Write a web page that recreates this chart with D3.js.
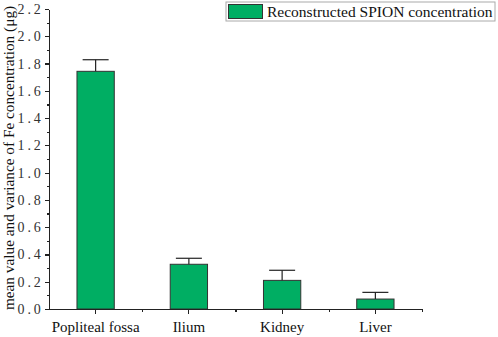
<!DOCTYPE html>
<html>
<head>
<meta charset="utf-8">
<style>
body {margin:0; background:#fff;}
svg text {font-family:'Liberation Serif','Times New Roman',serif; fill:#111;}
.axis path,.axis line {stroke:#222; stroke-width:1.2; shape-rendering:crispEdges;}
.ytick text {letter-spacing:2.8px;}
</style>
<script src="https://d3js.org/d3.v7.min.js"></script>
</head>
<body>
<svg id="chart"></svg>
<script>
// data
var categories=['Popliteal fossa','Ilium','Kidney','Liver'];
var means=[1.743,0.328,0.210,0.073];
var errors=[0.085,0.044,0.074,0.049];
var yTicks=[0,0.2,0.4,0.6,0.8,1.0,1.2,1.4,1.6,1.8,2.0,2.2];
var seriesName='Reconstructed SPION concentration';

var W=498,H=337;
var mL=49,mR=422,mT=9,mB=309;
var green='#00ae63';

var svg=d3.select('#chart').attr('width',W).attr('height',H);

var x=d3.scaleBand().domain(categories).range([mL,mR]);
var y=d3.scaleLinear().domain([0,2.2]).range([mB,mT]);

var rows=categories.map(function(c,i){return {c:c,m:means[i],e:errors[i]};});

// bars
var barW=x.bandwidth()*0.4;
svg.selectAll('rect.bar').data(rows).enter().append('rect')
   .attr('class','bar')
   .attr('x',function(d){return x(d.c)+x.bandwidth()/2-barW/2;})
   .attr('y',function(d){return y(d.m);})
   .attr('width',barW)
   .attr('height',function(d){return y(0)-y(d.m);})
   .attr('fill',green).attr('stroke','#333').attr('stroke-width',1);

// error bars (upper only)
var capW=26;
var eb=svg.selectAll('g.err').data(rows).enter().append('g').attr('class','err')
   .attr('stroke','#222').attr('stroke-width',1.2);
eb.append('line')
   .attr('x1',function(d){return x(d.c)+x.bandwidth()/2;})
   .attr('x2',function(d){return x(d.c)+x.bandwidth()/2;})
   .attr('y1',function(d){return y(d.m);})
   .attr('y2',function(d){return y(d.m+d.e);});
eb.append('line')
   .attr('x1',function(d){return x(d.c)+x.bandwidth()/2-capW/2;})
   .attr('x2',function(d){return x(d.c)+x.bandwidth()/2+capW/2;})
   .attr('y1',function(d){return y(d.m+d.e);})
   .attr('y2',function(d){return y(d.m+d.e);});

// y axis: major + minor ticks
var minor=d3.range(0.1,2.2,0.2);
svg.append('g').attr('class','axis')
   .attr('transform','translate('+mL+',0)')
   .call(d3.axisLeft(y).tickValues(minor).tickSize(2.5).tickFormat('').tickSizeOuter(0));
svg.append('g').attr('class','axis ytick')
   .attr('transform','translate('+mL+',0)')
   .call(d3.axisLeft(y).tickValues(yTicks).tickSize(4.5).tickSizeOuter(0).tickPadding(1)
         .tickFormat(d3.format('.1f')))
   .selectAll('text').style('font-size','14px').style('fill','#333');

// x axis
var bounds=categories.map(function(c){return x(c)+x.bandwidth();});
svg.append('g').attr('class','axis')
   .attr('transform','translate(0,'+mB+')')
   .call(d3.axisBottom(d3.scaleLinear().domain([mL,mR]).range([mL,mR]))
         .tickValues(bounds).tickSize(3).tickFormat('').tickSizeOuter(0));
svg.append('g').attr('class','axis')
   .attr('transform','translate(0,'+mB+')')
   .call(d3.axisBottom(x).tickSize(5).tickSizeOuter(0).tickPadding(7))
   .selectAll('text').style('font-size','15px').style('fill','#111');

// y title
svg.append('text')
   .attr('transform','translate(14,'+((mT+mB)/2-1)+') rotate(-90)')
   .attr('text-anchor','middle').style('font-size','15.3px')
   .text('mean value and variance of Fe concentration (\u03bcg)');

// legend
var lg=svg.append('g').attr('transform','translate(226,2)');
lg.append('rect').attr('width',269).attr('height',19)
  .attr('fill','#fff').attr('stroke','#aaa').attr('stroke-width',1);
lg.append('rect').attr('x',2.5).attr('y',2.5).attr('width',34).attr('height',14)
  .attr('fill',green).attr('stroke','#333').attr('stroke-width',1);
lg.append('text').attr('x',41).attr('y',15).style('font-size','15.5px').text(seriesName);
</script>
</body>
</html>
